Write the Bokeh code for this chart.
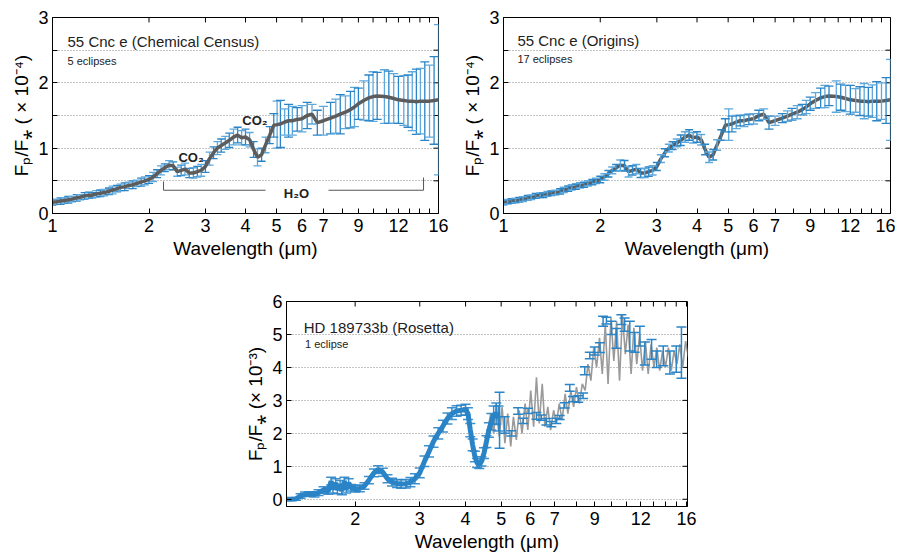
from bokeh.plotting import figure
from bokeh.models import FixedTicker, Range1d, Label, ColumnDataSource, Spacer
from bokeh.layouts import column, row
from bokeh.embed import file_html
from bokeh.resources import INLINE

# ---------------- data ----------------
# 55 Cnc e spectrum (x10^-4), dense short-wavelength bins
cnc_dense_wave = [1.00, 1.03, 1.06, 1.09, 1.12, 1.15, 1.19, 1.22, 1.26, 1.30, 1.33, 1.37, 1.41, 1.45,
                  1.50, 1.54, 1.59, 1.63, 1.68, 1.73, 1.78, 1.83, 1.89, 1.94, 2.00, 2.06, 2.12, 2.18,
                  2.24, 2.31, 2.38, 2.45, 2.52, 2.59, 2.67, 2.75, 2.83, 2.91, 3.00, 3.09, 3.18, 3.27,
                  3.36, 3.46, 3.56, 3.67, 3.78, 3.89, 4.00, 4.12, 4.24, 4.36, 4.49, 4.62, 4.76]
cnc_dense_flux = [0.17, 0.18, 0.19, 0.20, 0.21, 0.22, 0.24, 0.25, 0.27, 0.28, 0.28, 0.30, 0.31, 0.32,
                  0.34, 0.36, 0.38, 0.40, 0.41, 0.43, 0.44, 0.46, 0.48, 0.50, 0.52, 0.56, 0.61, 0.66,
                  0.70, 0.74, 0.73, 0.64, 0.66, 0.68, 0.62, 0.62, 0.64, 0.66, 0.72, 0.84, 0.93, 1.00,
                  1.04, 1.08, 1.12, 1.17, 1.20, 1.16, 1.17, 1.13, 0.98, 0.86, 0.90, 1.05, 1.20]
# sparse long-wavelength bins
cnc_sparse_wave = [4.90, 5.02, 5.14, 5.30, 5.45, 5.60, 5.80, 6.00, 6.23, 6.45, 6.70, 7.00, 7.37, 7.65,
                   7.90, 8.20, 8.50, 8.75, 9.00, 9.35, 9.70, 10.0, 10.3, 10.85, 11.2, 11.6, 12.0, 12.47,
                   12.85, 13.25, 13.65, 14.05, 14.5, 15.0, 15.5, 16.0]
cnc_sparse_flux = [1.35, 1.36, 1.37, 1.40, 1.42, 1.42, 1.44, 1.45, 1.50, 1.52, 1.39, 1.42, 1.46, 1.49,
                   1.52, 1.55, 1.59, 1.63, 1.68, 1.73, 1.77, 1.79, 1.80, 1.79, 1.78, 1.76, 1.74, 1.73,
                   1.72, 1.72, 1.71, 1.72, 1.72, 1.72, 1.73, 1.74]
census_dense_err = [0.04, 0.04, 0.05, 0.04, 0.05, 0.04, 0.05, 0.04, 0.05, 0.05, 0.04, 0.05, 0.05, 0.05,
                    0.05, 0.06, 0.05, 0.05, 0.06, 0.05, 0.06, 0.05, 0.06, 0.06, 0.06, 0.07, 0.06, 0.07,
                    0.06, 0.07, 0.06, 0.07, 0.08, 0.09, 0.07, 0.08, 0.08, 0.09, 0.09, 0.10, 0.09, 0.10,
                    0.10, 0.10, 0.11, 0.12, 0.12, 0.11, 0.12, 0.11, 0.12, 0.13, 0.10, 0.12, 0.13]
census_sparse_err = [0.18, 0.36, 0.36, 0.20, 0.25, 0.22, 0.18, 0.20, 0.20, 0.15, 0.19, 0.22, 0.24, 0.26,
                     0.30, 0.25, 0.28, 0.30, 0.24, 0.30, 0.35, 0.38, 0.36, 0.41, 0.40, 0.38, 0.36, 0.38,
                     0.40, 0.45, 0.50, 0.50, 0.60, 0.55, 0.67, 1.15]
origins_dense_err = [0.035, 0.035, 0.035, 0.035, 0.035, 0.035, 0.035, 0.035, 0.035, 0.035, 0.035, 0.035, 0.035, 0.035,
                     0.04, 0.04, 0.04, 0.04, 0.04, 0.04, 0.04, 0.04, 0.04, 0.04, 0.05, 0.05, 0.05, 0.05,
                     0.05, 0.08, 0.08, 0.08, 0.07, 0.07, 0.07, 0.07, 0.07, 0.07, 0.06, 0.06, 0.06, 0.06,
                     0.06, 0.06, 0.08, 0.08, 0.08, 0.08, 0.08, 0.08, 0.08, 0.08, 0.08, 0.08, 0.08]
origins_sparse_err = [0.10, 0.24, 0.12, 0.10, 0.08, 0.09, 0.08, 0.08, 0.08, 0.08, 0.10, 0.07, 0.07, 0.08,
                      0.09, 0.10, 0.08, 0.10, 0.10, 0.12, 0.15, 0.17, 0.15, 0.24, 0.20, 0.20, 0.22, 0.18,
                      0.22, 0.27, 0.22, 0.25, 0.30, 0.28, 0.35, 0.62]

# HD 189733b spectrum (x10^-3)
hd_dense_wave = [1.30, 1.34, 1.38, 1.42, 1.46, 1.50, 1.55, 1.59, 1.64, 1.69, 1.72, 1.74, 1.77, 1.79,
                 1.82, 1.84, 1.87, 1.89, 1.92, 1.95, 2.00, 2.06, 2.12, 2.18, 2.25, 2.31, 2.38, 2.45,
                 2.52, 2.60, 2.67, 2.75, 2.83, 2.91, 3.00, 3.09, 3.18, 3.27, 3.37, 3.47, 3.57, 3.67,
                 3.78, 3.89, 4.00, 4.06, 4.12, 4.18, 4.24, 4.30, 4.36, 4.42, 4.49, 4.56, 4.63, 4.70,
                 4.77, 4.85, 4.92]
hd_dense_flux = [0.00, 0.00, 0.01, 0.10, 0.15, 0.16, 0.15, 0.20, 0.28, 0.25, 0.55, 0.30, 0.50, 0.28,
                 0.45, 0.25, 0.55, 0.30, 0.50, 0.35, 0.32, 0.33, 0.40, 0.58, 0.80, 0.90, 0.82, 0.62,
                 0.52, 0.48, 0.46, 0.47, 0.52, 0.62, 0.80, 1.15, 1.45, 1.75, 2.00, 2.22, 2.45, 2.60,
                 2.68, 2.70, 2.72, 2.60, 2.10, 1.65, 1.30, 1.10, 1.05, 1.15, 1.40, 1.75, 2.10, 2.35,
                 2.55, 2.60, 2.45]
hd_dense_err = [0.03, 0.03, 0.04, 0.07, 0.07, 0.07, 0.08, 0.09, 0.10, 0.10, 0.12, 0.11, 0.12, 0.11,
                0.12, 0.11, 0.12, 0.11, 0.12, 0.10, 0.10, 0.10, 0.10, 0.11, 0.12, 0.12, 0.12, 0.12,
                0.12, 0.12, 0.13, 0.13, 0.14, 0.15, 0.15, 0.16, 0.17, 0.17, 0.17, 0.18, 0.17, 0.18,
                0.16, 0.15, 0.16, 0.18, 0.20, 0.18, 0.16, 0.14, 0.12, 0.14, 0.16, 0.18, 0.22, 0.25,
                0.28, 0.32, 0.38]
hd_sparse_wave = [4.95, 5.11, 5.33, 5.56, 5.74, 5.92, 6.24, 6.43, 6.64, 6.85, 7.07, 7.22, 7.45, 7.69,
                  7.85, 8.11, 8.36, 8.45, 8.72, 9.00, 9.29, 9.48, 9.68, 9.99, 10.3, 10.63, 10.85, 11.21,
                  11.56, 11.94, 12.32, 12.85, 13.27, 13.83, 14.42, 15.0, 15.5]
hd_sparse_flux = [2.40, 2.25, 2.00, 2.68, 2.38, 2.68, 2.53, 2.48, 2.35, 2.28, 2.38, 2.48, 2.85, 3.38,
                  3.04, 3.04, 3.14, 3.90, 4.36, 4.50, 4.60, 5.40, 5.42, 5.20, 4.88, 5.45, 5.30, 4.95,
                  4.76, 4.95, 4.42, 4.55, 4.25, 4.35, 4.15, 4.25, 4.45]
hd_sparse_err = [0.85, 0.25, 0.08, 0.10, 0.08, 0.08, 0.10, 0.08, 0.10, 0.08, 0.08, 0.06, 0.08, 0.10,
                 0.08, 0.10, 0.08, 0.12, 0.10, 0.12, 0.15, 0.15, 0.10, 0.20, 0.30, 0.15, 0.20, 0.45,
                 0.30, 0.30, 0.35, 0.30, 0.25, 0.30, 0.35, 0.40, 0.78]
hd_gray_wave = [4.60, 4.68, 4.77, 4.85, 4.94, 5.03, 5.12, 5.21, 5.31, 5.40, 5.50, 5.60, 5.70, 5.81,
                5.91, 6.02, 6.13, 6.24, 6.35, 6.47, 6.58, 6.70, 6.82, 6.95, 7.07, 7.20, 7.33, 7.47,
                7.60, 7.74, 7.88, 8.02, 8.17, 8.32, 8.47, 8.62, 8.78, 8.94, 9.10, 9.27, 9.43, 9.61,
                9.78, 9.96, 10.14, 10.32, 10.51, 10.70, 10.90, 11.09, 11.30, 11.50, 11.71, 11.92,
                12.14, 12.36, 12.58, 12.81, 13.05, 13.28, 13.52, 13.77, 14.02, 14.28, 14.54, 14.80,
                15.07, 15.34, 15.62, 15.91, 16.20]
hd_gray_flux = [2.1, 2.6, 2.0, 2.9, 1.9, 2.8, 1.7, 2.6, 1.6, 2.5, 1.8, 2.7, 2.0, 2.9,
                2.1, 3.3, 2.2, 3.7, 2.3, 3.5, 2.2, 2.8, 2.1, 2.7, 2.3, 2.9, 2.4, 3.2,
                2.6, 3.3, 2.8, 3.4, 2.9, 3.5, 3.3, 4.1, 3.6, 4.6, 4.0, 4.9, 3.8, 5.3,
                3.5, 5.5, 4.2, 5.4, 3.6, 5.6, 4.4, 5.3, 3.8, 5.2, 4.1, 5.0,
                3.9, 4.8, 3.8, 4.7, 4.0, 4.6, 3.9, 4.5, 4.0, 4.6, 3.9, 4.5,
                4.1, 4.7, 4.0, 4.8, 4.3]

x_ticks = [1, 2, 3, 4, 5, 6, 7, 9, 12, 16]
x_tick_labels = ["1", "2", "3", "4", "5", "6", "7", "9", "12", "16"]
x_minor_ticks = [8, 10, 11, 13, 14, 15]
y_ticks_top = [0, 1, 2, 3]
y_minor_top = [0.5, 1.5, 2.5]
y_ticks_bot = [0, 1, 2, 3, 4, 5, 6]

# ---------------- styling ----------------
FONT = "Liberation Sans"
BLUE = "#2a84c6"
BLUE_L = "#5ea8dc"
GRAY_D = "#5c5c5c"
GRAY_L = "#9a9a9a"
TICK_PX = 5


def style_axis(ax):
    ax.axis_line_color = "black"
    ax.axis_line_width = 1
    ax.major_tick_line_color = "black"
    ax.major_tick_in = TICK_PX
    ax.major_tick_out = 0
    ax.minor_tick_line_color = "black"
    ax.minor_tick_in = TICK_PX
    ax.minor_tick_out = 0
    ax.major_label_text_font = FONT
    ax.major_label_text_color = "black"
    ax.major_label_text_font_size = "18px"
    ax.axis_label_text_font = FONT
    ax.axis_label_text_font_style = "normal"
    ax.axis_label_text_color = "black"
    ax.axis_label_text_font_size = "19px"


def make_fig(width, height, mbl, mbr, mbt, mbb, xr, yr, yticks, yminor, ylabel_text, xstand, xlstand):
    p = figure(width=width, height=height, x_axis_type="log",
               x_range=Range1d(*xr), y_range=Range1d(*yr),
               output_backend="svg", toolbar_location=None,
               min_border_left=mbl, min_border_right=mbr,
               min_border_top=mbt, min_border_bottom=mbb)
    p.background_fill_color = "white"
    p.border_fill_color = "white"
    p.outline_line_color = "black"
    p.outline_line_width = 1
    xt = FixedTicker(ticks=x_ticks, minor_ticks=x_minor_ticks)
    yt = FixedTicker(ticks=yticks, minor_ticks=yminor)
    xa = p.xaxis[0]
    ya = p.yaxis[0]
    xa.ticker = xt
    ya.ticker = yt
    xa.major_label_overrides = {t: l for t, l in zip(x_ticks, x_tick_labels)}
    style_axis(xa)
    style_axis(ya)
    xa.axis_label = "Wavelength (μm)"
    ya.axis_label = ylabel_text
    xa.major_label_standoff = xstand
    xa.axis_label_standoff = xlstand
    ya.major_label_standoff = 4
    ya.axis_label_standoff = 3
    p.xgrid.visible = False
    p.ygrid.grid_line_color = "#8a8a8a"
    p.ygrid.grid_line_dash = "1 2"
    p.ygrid.grid_line_width = 1
    p.ygrid.minor_grid_line_color = "#8a8a8a"
    p.ygrid.minor_grid_line_dash = "1 2"
    p.ygrid.minor_grid_line_width = 1
    # inward ticks on the top and right frame edges
    fw = width - mbl - mbr
    fh = height - mbt - mbb
    dy = TICK_PX * (yr[1] - yr[0]) / fh
    fx = (xr[1] / xr[0]) ** (TICK_PX / fw)
    xs = [t for t in x_ticks + x_minor_ticks if xr[0] <= t <= xr[1]]
    ys = [t for t in yticks + yminor if yr[0] <= t <= yr[1]]
    p.segment(x0=xs, y0=[yr[1]] * len(xs), x1=xs, y1=[yr[1] - dy] * len(xs),
              line_color="black", line_width=1)
    p.segment(x0=[xr[1]] * len(ys), y0=ys, x1=[xr[1] / fx] * len(ys), y1=ys,
              line_color="black", line_width=1)
    return p


def errorbars(p, wave, flux, err, colors, cap, lw=1.3, alpha=1.0):
    src = ColumnDataSource(dict(
        w=list(wave),
        lo=[f - e for f, e in zip(flux, err)],
        hi=[f + e for f, e in zip(flux, err)],
        c=colors,
    ))
    p.segment(x0="w", y0="lo", x1="w", y1="hi", source=src, line_color="c", line_width=lw, line_alpha=alpha)
    p.scatter(x="w", y="lo", source=src, marker="dash", size=cap, line_color="c", line_width=lw, line_alpha=alpha)
    p.scatter(x="w", y="hi", source=src, marker="dash", size=cap, line_color="c", line_width=lw, line_alpha=alpha)


def alt_colors(n):
    return [BLUE if i % 2 == 0 else BLUE_L for i in range(n)]


def add_text(p, x, y, text, size, style="normal", align="left"):
    p.add_layout(Label(x=x, y=y, text=text, text_font=FONT, text_font_size=size,
                       text_font_style=style, text_color="#222222",
                       text_align=align, text_baseline="alphabetic"))


ylab_top = "Fₚ/F⁎ ( × 10⁻⁴)"
ylab_bot = "Fₚ/F⁎ (× 10⁻³)"

all_wave = cnc_dense_wave + cnc_sparse_wave
all_flux = cnc_dense_flux + cnc_sparse_flux

# ---- panel 1: Chemical Census ----
p1 = make_fig(458, 266, 52, 20, 17, 52, (1, 16), (0, 3), y_ticks_top, y_minor_top, ylab_top, 5, 3)
errorbars(p1, cnc_dense_wave, cnc_dense_flux, census_dense_err, alt_colors(len(cnc_dense_wave)), 8)
errorbars(p1, cnc_sparse_wave, cnc_sparse_flux, census_sparse_err, alt_colors(len(cnc_sparse_wave)), 9)
p1.line(all_wave, all_flux, line_color=GRAY_D, line_width=3.5)
add_text(p1, 1.114, 2.63, "55 Cnc e (Chemical Census)", "15px")
add_text(p1, 1.114, 2.34, "5 eclipses", "11px")
add_text(p1, 2.47, 0.86, "CO₂", "13px", "bold")
add_text(p1, 3.91, 1.43, "CO₂", "13px", "bold")
add_text(p1, 5.77, 0.31, "H₂O", "13px", "bold", "center")
p1.line([2.22, 2.22, 4.62], [0.49, 0.356, 0.356], line_color="#555555", line_width=1)
p1.line([7.26, 14.37, 14.37], [0.356, 0.356, 0.55], line_color="#555555", line_width=1)

# ---- panel 2: Origins ----
p2 = make_fig(437, 266, 45, 5, 12, 53, (1, 16), (0, 3), y_ticks_top, y_minor_top, ylab_top, 5, 3)
p2.line(all_wave, all_flux, line_color=GRAY_D, line_width=3.5)
errorbars(p2, cnc_dense_wave, cnc_dense_flux, origins_dense_err, alt_colors(len(cnc_dense_wave)), 8, 1.5)
errorbars(p2, cnc_sparse_wave, cnc_sparse_flux, origins_sparse_err, alt_colors(len(cnc_sparse_wave)), 9)
add_text(p2, 1.105, 2.65, "55 Cnc e (Origins)", "15px")
add_text(p2, 1.105, 2.36, "17 eclipses", "11px")

# ---- panel 3: Rosetta ----
p3 = make_fig(456, 292, 45, 10, 35, 52, (1.3, 16.1), (-0.22, 6), y_ticks_bot, [], ylab_bot, 5, 3)
p3.line(hd_gray_wave, hd_gray_flux, line_color=GRAY_L, line_width=1.6)
p3.line(hd_dense_wave, hd_dense_flux, line_color=BLUE, line_width=5)
errorbars(p3, hd_dense_wave, hd_dense_flux, hd_dense_err, [BLUE] * len(hd_dense_wave), 10, 1.5, 0.9)
errorbars(p3, hd_sparse_wave, hd_sparse_flux, hd_sparse_err, [BLUE] * len(hd_sparse_wave), 10, 1.5)
add_text(p3, 1.449, 5.22, "HD 189733b (Rosetta)", "15px")
add_text(p3, 1.46, 4.72, "1 eclipse", "11px")

layout = column(row(p1, p2), row(Spacer(width=241, height=292), p3))

open("out.html", "w").write(file_html(layout, INLINE))
